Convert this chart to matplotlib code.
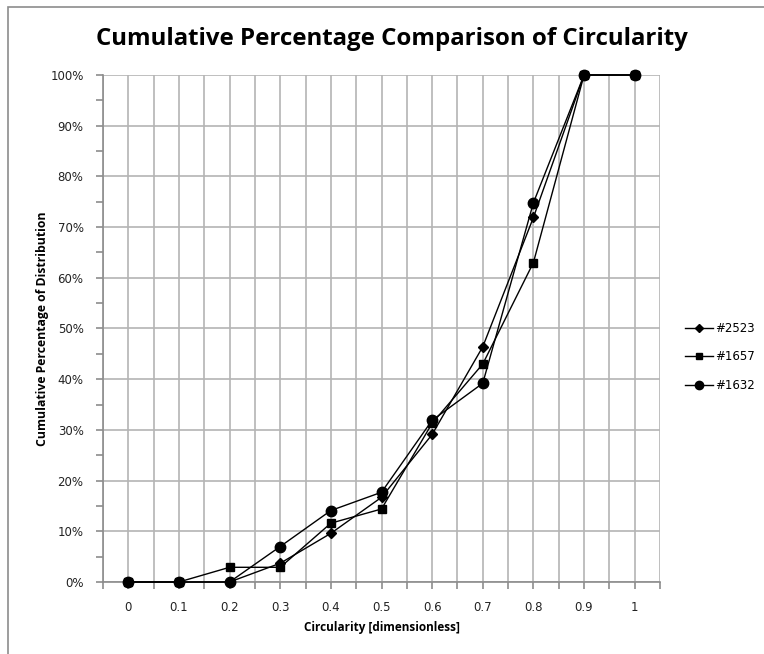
import matplotlib
matplotlib.use("Agg")
import matplotlib.pyplot as plt
from matplotlib.lines import Line2D
from matplotlib.patches import Rectangle
from matplotlib.ticker import MultipleLocator, PercentFormatter
import numpy as np

circularity = [0, 0.1, 0.2, 0.3, 0.4, 0.5, 0.6, 0.7, 0.8, 0.9, 1.0]
sample_2523 = [0, 0, 0, 3.7, 9.6, 16.7, 29.1, 46.4, 71.9, 100, 100]
sample_1657 = [0, 0, 2.9, 2.9, 11.6, 14.4, 31.3, 43.0, 63.0, 100, 100]
sample_1632 = [0, 0, 0, 7.0, 14.1, 17.7, 31.9, 39.2, 74.8, 100, 100]

series = [
    ("#2523", sample_2523, "D", 5.5),
    ("#1657", sample_1657, "s", 6),
    ("#1632", sample_1632, "o", 7.5),
]

fig = plt.figure(figsize=(7.64, 6.54), dpi=100)
fig.patches.append(Rectangle((8 / 764, -0.1), 1.2, 1 - 7 / 654 + 0.1,
                             transform=fig.transFigure, fill=False,
                             edgecolor="#8c8c8c", linewidth=1.2))

ax = fig.add_axes([103 / 764, 1 - 582 / 654, 557 / 764, 507 / 654])

for name, vals, mk, ms in series:
    ax.plot(circularity, np.array(vals) / 100, color="black", linewidth=1,
            marker=mk, markersize=ms, markerfacecolor="black",
            markeredgecolor="black", label=name, clip_on=False, zorder=3)

ax.set_xlim(-0.05, 1.05)
ax.set_ylim(0, 1)
ax.xaxis.set_major_locator(MultipleLocator(0.1))
ax.xaxis.set_minor_locator(MultipleLocator(0.05))
ax.yaxis.set_major_locator(MultipleLocator(0.1))
ax.yaxis.set_minor_locator(MultipleLocator(0.05))
ax.yaxis.set_major_formatter(PercentFormatter(1.0, decimals=0))
ax.set_xticks(circularity)
ax.set_xticklabels(["0", "0.1", "0.2", "0.3", "0.4", "0.5", "0.6", "0.7",
                    "0.8", "0.9", "1"])

ax.grid(True, which="major", axis="both", color="#b4b4b4", linewidth=1.2)
ax.grid(True, which="minor", axis="x", color="#b4b4b4", linewidth=1.2)
ax.set_axisbelow(True)

for side in ["top", "right"]:
    ax.spines[side].set_visible(False)
for side in ["left", "bottom"]:
    ax.spines[side].set_color("#8c8c8c")
    ax.spines[side].set_linewidth(1.2)

ax.tick_params(which="both", direction="out", color="#8c8c8c", width=1.2,
               length=5, labelsize=8.5, labelcolor="#222222")
ax.tick_params(axis="x", which="both", length=5, pad=9)
ax.tick_params(axis="y", pad=9)

ax.set_xlabel("Circularity [dimensionless]", fontsize=8.5, fontweight="bold",
              family="Open Sans", labelpad=5)
ax.set_ylabel("Cumulative Percentage of Distribution", fontsize=8.8,
              fontweight="bold", family="Open Sans", labelpad=1)

fig.text(392 / 764, 1 - 39 / 654, "Cumulative Percentage Comparison of Circularity",
         ha="center", va="center", fontsize=17.3, fontweight="bold", family="Open Sans")

handles = [Line2D([0], [0], color="black", linewidth=1, marker=mk,
                  markersize=ms * 0.8, markerfacecolor="black")
           for _, _, mk, ms in series]
fig.legend(handles, [s[0] for s in series], loc="center left",
           bbox_to_anchor=(674 / 764, 1 - 357 / 654), frameon=False,
           fontsize=8.5, handlelength=2.4, handletextpad=0.2, labelspacing=1.3)

fig.savefig("out.png", dpi=100)
